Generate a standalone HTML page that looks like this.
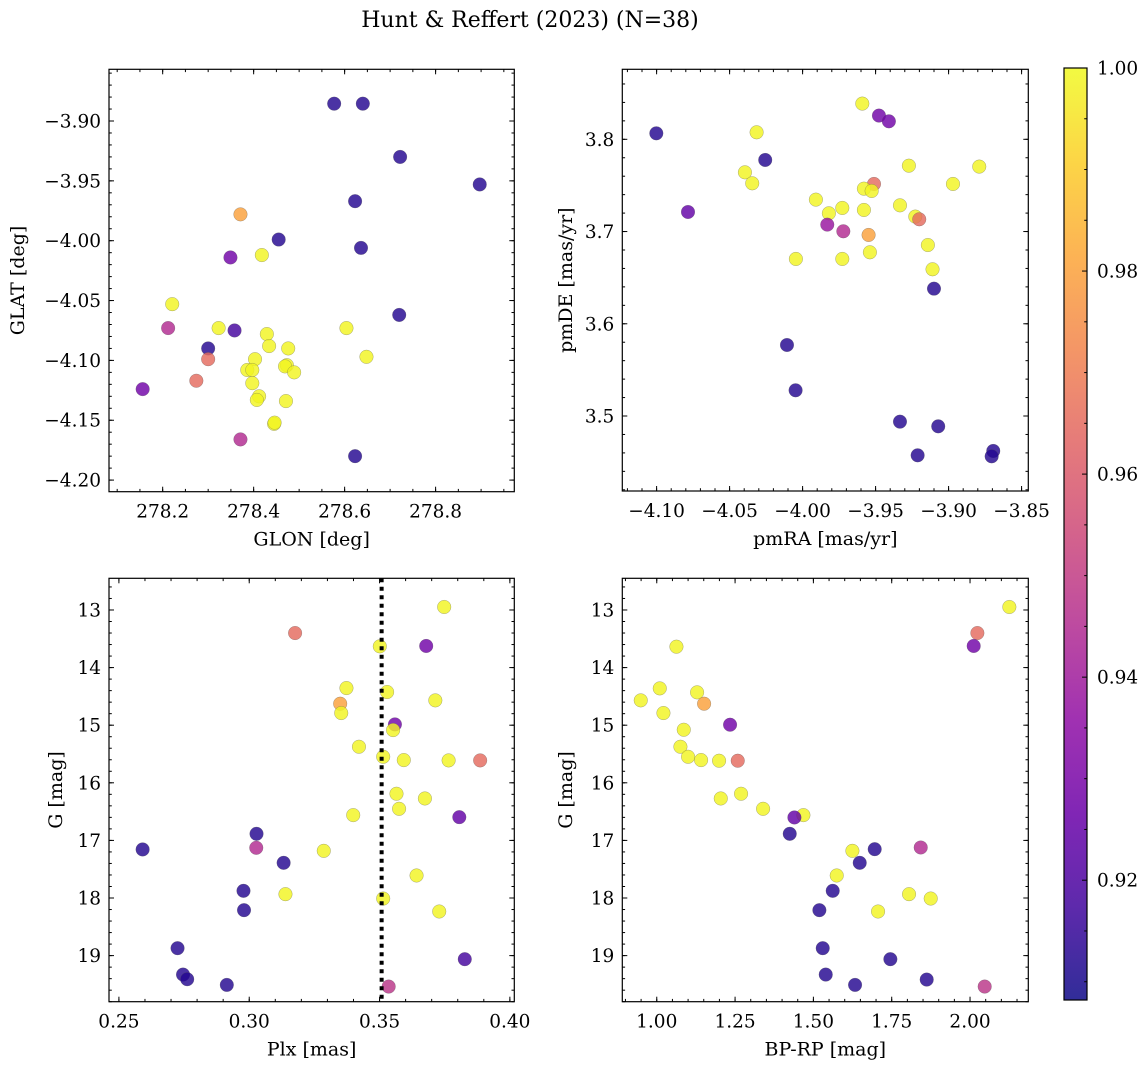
<!DOCTYPE html>
<html><head><meta charset="utf-8"><style>
body{margin:0;background:#fff}
svg{display:block;font-family:"DejaVu Serif","Liberation Serif",serif}
</style></head><body>
<svg id="fig" width="1148" height="1068" xmlns="http://www.w3.org/2000/svg">
<text x="530" y="27" font-size="22" text-anchor="middle">Hunt &amp; Reffert (2023) (N=38)</text>
</svg>
<script>
// ---- data ----
const glon=[278.577,278.640,278.722,278.897,278.623,278.371,278.455,278.636,278.349,278.418,278.221,278.212,278.323,278.358,278.720,278.604,278.429,278.434,278.476,278.300,278.300,278.648,278.403,278.386,278.397,278.473,278.469,278.489,278.274,278.156,278.397,278.412,278.407,278.471,278.445,278.371,278.623,278.446];
const glat=[-3.8855,-3.8855,-3.930,-3.953,-3.967,-3.978,-3.999,-4.006,-4.014,-4.012,-4.053,-4.073,-4.073,-4.075,-4.062,-4.073,-4.078,-4.088,-4.090,-4.090,-4.099,-4.097,-4.099,-4.108,-4.108,-4.104,-4.105,-4.110,-4.117,-4.124,-4.119,-4.130,-4.133,-4.134,-4.153,-4.166,-4.180,-4.152];
const prob1=[0.912,0.912,0.912,0.912,0.912,0.98,0.912,0.912,0.928,0.999,0.999,0.945,0.999,0.918,0.912,0.999,0.999,0.999,0.999,0.912,0.965,0.999,0.999,0.999,0.999,0.999,0.999,0.999,0.965,0.928,0.999,0.999,0.999,0.999,0.999,0.945,0.912,0.999];
const pmra=[-3.9591,-3.9477,-3.9409,-4.1002,-4.0315,-4.0256,-4.0395,-4.0345,-3.9272,-3.8790,-3.8970,-3.9511,-3.9580,-3.9527,-3.9909,-4.0785,-3.9820,-3.9728,-3.9580,-3.9333,-3.9228,-3.9201,-3.9831,-3.9721,-3.9548,-3.9142,-4.0046,-3.9728,-3.9539,-3.9110,-3.9100,-4.0107,-4.0048,-3.9333,-3.9071,-3.9212,-3.8694,-3.8705];
const pmde=[3.8387,3.8257,3.8195,3.8065,3.8076,3.7776,3.7642,3.7523,3.7714,3.7704,3.7516,3.7516,3.7465,3.7440,3.7346,3.7212,3.7198,3.7256,3.7234,3.7284,3.7162,3.7133,3.7075,3.7003,3.6963,3.6854,3.6703,3.6703,3.6775,3.6591,3.6381,3.5770,3.5279,3.4939,3.4888,3.4574,3.4621,3.4563];
const prob2=[0.999,0.928,0.928,0.912,0.999,0.912,0.999,0.999,0.999,0.999,0.999,0.965,0.999,0.999,0.999,0.925,0.999,0.999,0.999,0.999,0.999,0.965,0.938,0.945,0.98,0.999,0.999,0.999,0.999,0.999,0.912,0.912,0.912,0.912,0.912,0.912,0.912,0.912];
const plx=[0.3748,0.3176,0.3501,0.3679,0.3373,0.3529,0.3714,0.3349,0.3353,0.3559,0.3552,0.3421,0.3514,0.3593,0.3765,0.3886,0.3565,0.3674,0.3575,0.3399,0.3806,0.3028,0.2591,0.3027,0.3286,0.3132,0.3642,0.2978,0.3139,0.3514,0.2980,0.3729,0.2725,0.3827,0.2746,0.2762,0.2914,0.3535];
const gmag3=[12.948,13.400,13.631,13.625,14.355,14.424,14.569,14.627,14.789,14.986,15.085,15.374,15.548,15.606,15.611,15.611,16.190,16.272,16.451,16.561,16.596,16.885,17.157,17.128,17.181,17.389,17.609,17.875,17.933,18.009,18.211,18.234,18.871,19.062,19.329,19.410,19.508,19.537];
const prob3=[0.999,0.965,0.999,0.928,0.999,0.999,0.999,0.98,0.999,0.928,0.999,0.999,0.999,0.999,0.999,0.965,0.999,0.999,0.999,0.999,0.925,0.912,0.912,0.945,0.999,0.912,0.999,0.912,0.999,0.999,0.912,0.999,0.912,0.918,0.912,0.912,0.912,0.948];
const bprp=[2.1255,2.0234,2.0117,1.0628,1.0096,0.9489,1.1287,1.1511,1.0213,1.2340,1.0862,1.0755,1.1000,1.1415,1.1989,1.2585,1.2691,1.2043,1.3394,1.4681,1.4394,1.4245,1.6957,1.8426,1.6245,1.6479,1.5745,1.5617,1.8053,1.8745,1.5191,1.7064,1.5298,1.7457,1.5394,1.8617,1.6330,2.0468];
const gmag4=[12.948,13.400,13.625,13.637,14.361,14.569,14.430,14.627,14.789,14.992,15.079,15.374,15.548,15.606,15.617,15.617,16.190,16.272,16.451,16.561,16.602,16.885,17.152,17.123,17.181,17.389,17.609,17.875,17.933,18.009,18.211,18.234,18.871,19.062,19.329,19.416,19.508,19.537];
const prob4=[0.999,0.965,0.928,0.999,0.999,0.999,0.999,0.98,0.999,0.928,0.999,0.999,0.999,0.999,0.999,0.965,0.999,0.999,0.999,0.999,0.925,0.912,0.912,0.945,0.999,0.912,0.999,0.912,0.999,0.999,0.912,0.999,0.912,0.912,0.912,0.912,0.912,0.948];
const plxCut=0.3508;
const cbTicks=[0.92,0.94,0.96,0.98,1.00];

const NS="http://www.w3.org/2000/svg";
const svg=document.getElementById('fig');
function mk(tag,attrs,parent){const e=document.createElementNS(NS,tag);for(const k in attrs)e.setAttribute(k,attrs[k]);(parent||svg).appendChild(e);return e;}
const stops=[[13,8,135],[65,4,157],[106,0,168],[143,13,164],[177,42,144],[204,71,120],[225,100,98],[242,132,75],[252,166,54],[252,206,37],[240,249,33]];
function plasma(t){t=Math.max(0,Math.min(1,t));const f=t*10,i=Math.min(9,Math.floor(f)),r=f-i;const a=stops[i],b=stops[i+1];return `rgb(${a.map((v,k)=>Math.round(v+(b[k]-v)*r)).join(',')})`;}
const VMIN=0.9082,VMAX=1.0;
const TF=18.5, LF=19;
function fmt(v,d){return (v<0?'\u2212':'')+Math.abs(v).toFixed(d);}

function panel(o){
  const g=mk('g',{});
  
  
  const sx=v=>o.x0+(v-o.xd[0])/(o.xd[1]-o.xd[0])*(o.x1-o.x0);
  const sy=v=>o.inv? o.y0+(v-o.yd[0])/(o.yd[1]-o.yd[0])*(o.y1-o.y0) : o.y1-(v-o.yd[0])/(o.yd[1]-o.yd[0])*(o.y1-o.y0);
  for(let i=0;i<o.xs.length;i++){
    const c=mk('circle',{cx:sx(o.xs[i]),cy:sy(o.ys[i]),r:6.8,fill:plasma((o.cs[i]-VMIN)/(VMAX-VMIN)),'fill-opacity':0.82,stroke:'#555','stroke-opacity':0.5,'stroke-width':0.5},g);
    
    
  }
  if(o.vline!==undefined){
    const l=mk('line',{x1:sx(o.vline),x2:sx(o.vline),y1:o.y0,y2:o.y1,stroke:'#000','stroke-width':4,'stroke-dasharray':'4 4.5'},g);
    
    
  }
  const tk=(v,maj,axis)=>{const L=maj?5:2.8;
    if(axis==='x'){const x=sx(v);if(x<o.x0-0.5||x>o.x1+0.5)return;
      mk('line',{x1:x,x2:x,y1:o.y1,y2:o.y1-L,stroke:'#000','stroke-width':1},g);
      mk('line',{x1:x,x2:x,y1:o.y0,y2:o.y0+L,stroke:'#000','stroke-width':1},g);}
    else{const y=sy(v);if(y<o.y0-0.5||y>o.y1+0.5)return;
      mk('line',{x1:o.x0,x2:o.x0+L,y1:y,y2:y,stroke:'#000','stroke-width':1},g);
      mk('line',{x1:o.x1,x2:o.x1-L,y1:y,y2:y,stroke:'#000','stroke-width':1},g);}};
  const lo=Math.min(...o.xd),hi=Math.max(...o.xd);
  for(let v=Math.ceil(lo/o.xmin)*o.xmin;v<=hi;v+=o.xmin)tk(v,false,'x');
  const ylo=Math.min(...o.yd),yhi=Math.max(...o.yd);
  for(let v=Math.ceil(ylo/o.ymin)*o.ymin;v<=yhi;v+=o.ymin)tk(v,false,'y');
  o.xt.forEach(v=>{tk(v,true,'x');const t=mk('text',{x:sx(v),y:o.y1+26,'font-size':TF,'text-anchor':'middle'},g);t.textContent=fmt(v,o.xdec);
    });
  o.yt.forEach(v=>{tk(v,true,'y');const t=mk('text',{x:o.x0-8,y:sy(v)+6.5,'font-size':TF,'text-anchor':'end'},g);t.textContent=fmt(v,o.ydec);
    });
  const fr=mk('rect',{x:o.x0,y:o.y0,width:o.x1-o.x0,height:o.y1-o.y0,fill:'none',stroke:'#000','stroke-width':1.2},g);
  
  const xl=mk('text',{x:(o.x0+o.x1)/2,y:o.y1+54,'font-size':LF,'text-anchor':'middle'},g);xl.textContent=o.xlab;
  
  const yx=o.ylx,yy=(o.y0+o.y1)/2;
  const yl=mk('text',{x:yx,y:yy,'font-size':LF,'text-anchor':'middle',transform:`rotate(-90 ${yx} ${yy})`},g);yl.textContent=o.ylab;
  
}

panel({name:'sky-position-panel',x0:109,x1:514.3,y0:69.3,y1:491.7,xd:[278.082,278.973],yd:[-4.2097,-3.8568],xs:glon,ys:glat,cs:prob1,
  xt:[278.2,278.4,278.6,278.8],xdec:1,xmin:0.05,yt:[-3.90,-3.95,-4.00,-4.05,-4.10,-4.15,-4.20],ydec:2,ymin:0.01,xlab:'GLON [deg]',ylab:'GLAT [deg]',ylx:24});
panel({name:'proper-motion-panel',x0:622.3,x1:1028.3,y0:69.3,y1:491,xd:[-4.1235,-3.8454],yd:[3.4187,3.8759],xs:pmra,ys:pmde,cs:prob2,
  xt:[-4.10,-4.05,-4.00,-3.95,-3.90,-3.85],xdec:2,xmin:0.01,yt:[3.5,3.6,3.7,3.8],ydec:1,ymin:0.02,xlab:'pmRA [mas/yr]',ylab:'pmDE [mas/yr]',ylx:572});
panel({name:'parallax-magnitude-panel',x0:109,x1:514.3,y0:578.3,y1:1001.7,xd:[0.2462,0.4017],yd:[12.45,19.80],inv:true,xs:plx,ys:gmag3,cs:prob3,vline:plxCut,
  xt:[0.25,0.30,0.35,0.40],xdec:2,xmin:0.01,yt:[13,14,15,16,17,18,19],ydec:0,ymin:0.2,xlab:'Plx [mas]',ylab:'G [mag]',ylx:62});
panel({name:'color-magnitude-panel',x0:622.3,x1:1028.3,y0:578.3,y1:1001.7,xd:[0.890,2.186],yd:[12.45,19.80],inv:true,xs:bprp,ys:gmag4,cs:prob4,
  xt:[1.00,1.25,1.50,1.75,2.00],xdec:2,xmin:0.05,yt:[13,14,15,16,17,18,19],ydec:0,ymin:0.2,xlab:'BP-RP [mag]',ylab:'G [mag]',ylx:572});

const cb=mk('g',{});


const defs=mk('defs',{},svg);
const grad=mk('linearGradient',{id:'pl',x1:0,y1:1,x2:0,y2:0},defs);
for(let i=0;i<=20;i++){mk('stop',{offset:i/20,'stop-color':plasma(i/20),'stop-opacity':0.85},grad);}
const CB={x:1064,w:23,y0:68,y1:1000};
const cy=v=>CB.y1-(v-VMIN)/(VMAX-VMIN)*(CB.y1-CB.y0);
mk('rect',{x:CB.x,y:CB.y0,width:CB.w,height:CB.y1-CB.y0,fill:'url(#pl)',stroke:'#000','stroke-width':1.2},cb);
for(let v=0.91;v<=1.0005;v+=0.005){const y=cy(v);const maj=Math.abs(v*50-Math.round(v*50))<1e-6;
  mk('line',{x1:CB.x+CB.w,x2:CB.x+CB.w-(maj?5:2.8),y1:y,y2:y,stroke:'#000','stroke-width':1},cb);}
cbTicks.forEach(v=>{const t=mk('text',{x:CB.x+CB.w+10,y:cy(v)+6.5,'font-size':TF},cb);t.textContent=v.toFixed(2);
  });
</script>
</body></html>
